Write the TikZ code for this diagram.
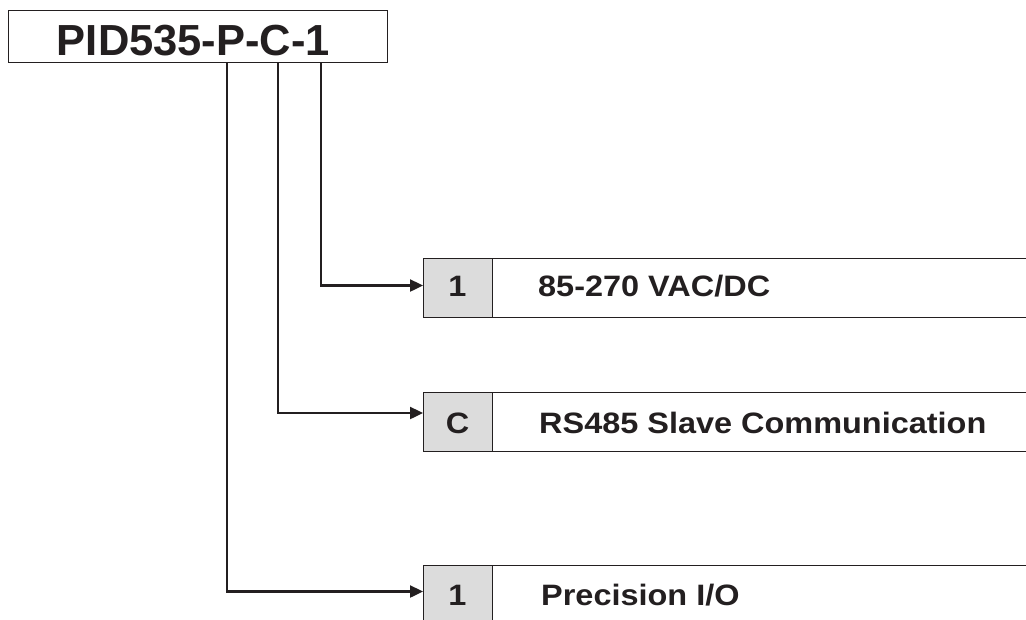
\documentclass[tikz,border=0pt]{standalone}
\usepackage{fontspec}
\setmainfont{Liberation Sans}
\usetikzlibrary{arrows.meta}
\definecolor{ink}{HTML}{231F20}
\definecolor{cellgray}{HTML}{DCDCDC}
\tikzset{
  x=1pt, y=-1pt,
  boxline/.style={draw=ink, line width=1.4pt},
  codecell/.style={boxline, fill=cellgray, minimum width=69pt, minimum height=59pt, inner sep=0pt, anchor=north west},
  desccell/.style={boxline, fill=white, minimum width=540pt, minimum height=59pt, inner sep=0pt, anchor=north west},
  codetext/.style={font=\bfseries\fontsize{29.5}{29.5}\selectfont, text=ink, anchor=base, inner sep=0pt},
  desctext/.style={font=\bfseries\fontsize{29.5}{29.5}\selectfont, text=ink, anchor=base west, inner sep=0pt},
  conn/.style={draw=ink, line width=2.4pt, -{Triangle[length=13pt,width=12pt]}},
}
\newcommand{\wide}[1]{\scalebox{1.1}[1]{#1}}
\begin{document}
\begin{tikzpicture}
\useasboundingbox (0,0) rectangle (1026,619);
% title
\node[boxline, fill=white, minimum width=379pt, minimum height=52pt, inner sep=0pt, anchor=north west] (tbox) at (8,10) {};
\node[font=\bfseries\fontsize{43.5}{43.5}\selectfont, text=ink, anchor=base, inner sep=0pt] (ttext) at (193.5,55) {PID535-P-C-1};
% option rows
\node[desccell] (d1) at (492,257.5) {};
\node[codecell] (c1) at (423,257.5) {};
\node[desccell] (d2) at (492,392) {};
\node[codecell] (c2) at (423,392) {};
\node[desccell] (d3) at (492,565) {};
\node[codecell] (c3) at (423,565) {};
% texts
\node[codetext] (k1) at (457.5,296) {\wide{1}};
\node[desctext] (l1) at (538,296) {\wide{85-270 VAC/DC}};
\node[codetext] (k2) at (457.5,433) {\wide{C}};
\node[desctext] (l2) at (539,433) {\wide{RS485 Slave Communication}};
\node[codetext] (k3) at (457.5,605) {\wide{1}};
\node[desctext] (l3) at (541,605) {\wide{Precision I/O}};
% connectors
\coordinate (t1) at (320.7,285.5);
\coordinate (t2) at (278,413);
\coordinate (t3) at (226.7,591.5);
\draw[conn] (tbox.south -| t1) -- (t1) -- (c1.west |- t1);
\draw[conn] (tbox.south -| t2) -- (t2) -- (c2.west |- t2);
\draw[conn] (tbox.south -| t3) -- (t3) -- (c3.west |- t3);
\end{tikzpicture}
\end{document}
